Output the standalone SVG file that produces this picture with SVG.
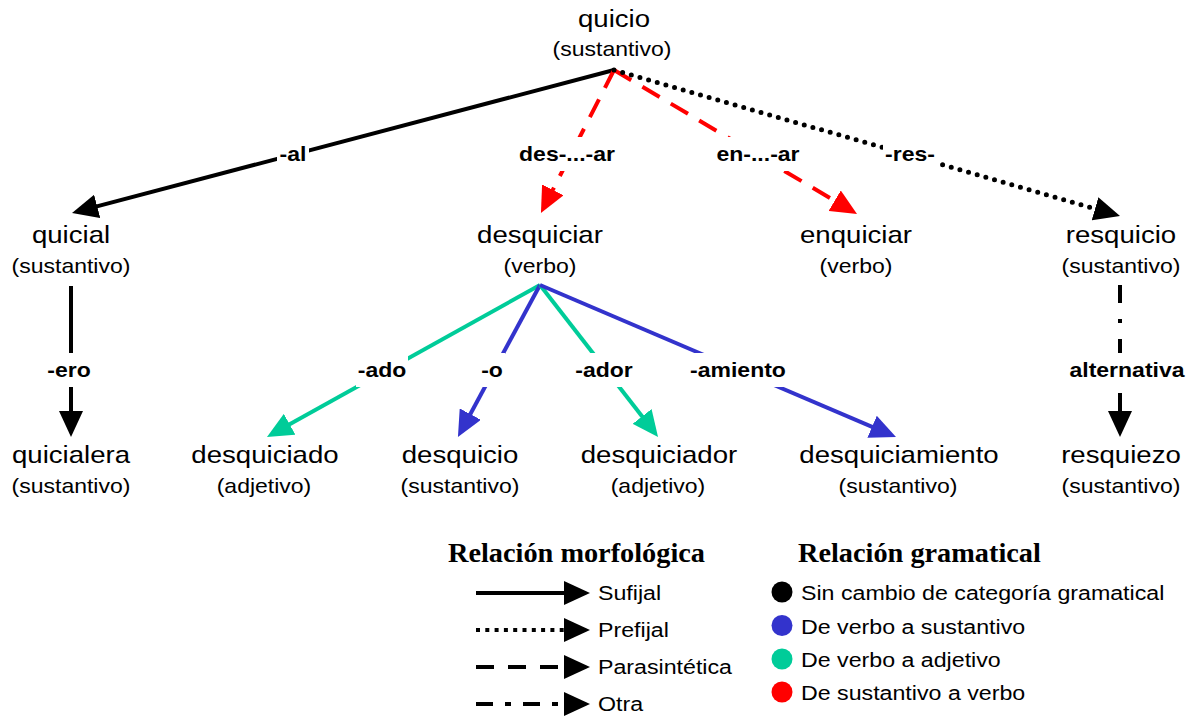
<svg xmlns="http://www.w3.org/2000/svg" width="1187" height="718" viewBox="0 0 1187 718">
<style>
  text { font-family: "Liberation Sans", Arial, sans-serif; fill: #000; }
  .w { font-size: 24px; text-anchor: middle; }
  .s { font-size: 20px; text-anchor: middle; }
  .lb { font-size: 20px; font-weight: bold; text-anchor: middle; }
  .lg { font-size: 20px; }
  .hd { font-family: "Liberation Serif", "Times New Roman", serif; font-size: 28.3px; font-weight: bold; }
  .ln { fill: none; stroke-width: 4; }
  .k { stroke: #000; }
  .r { stroke: #FF0000; }
  .g { stroke: #00CC99; }
  .b { stroke: #3333CC; }
  .dash { stroke-dasharray: 20 13; }
  .dot { stroke-dasharray: 0 9; stroke-linecap: round; stroke-width: 5; }
  .ddot { stroke-dasharray: 18 16 4 16; }
  .gap { fill: #fff; }
</style>
<defs>
  <marker id="ak" markerUnits="userSpaceOnUse" viewBox="0 0 26 24" refX="16" refY="12" markerWidth="26" markerHeight="24" orient="auto"><path d="M0,0 L26,12 L0,24 Z" fill="#000"/></marker>
  <marker id="ar" markerUnits="userSpaceOnUse" viewBox="0 0 26 24" refX="16" refY="12" markerWidth="26" markerHeight="24" orient="auto"><path d="M0,0 L26,12 L0,24 Z" fill="#FF0000"/></marker>
  <marker id="ag" markerUnits="userSpaceOnUse" viewBox="0 0 26 24" refX="16" refY="12" markerWidth="26" markerHeight="24" orient="auto"><path d="M0,0 L26,12 L0,24 Z" fill="#00CC99"/></marker>
  <marker id="ab" markerUnits="userSpaceOnUse" viewBox="0 0 26 24" refX="16" refY="12" markerWidth="26" markerHeight="24" orient="auto"><path d="M0,0 L26,12 L0,24 Z" fill="#3333CC"/></marker>
</defs>
<rect width="1187" height="718" fill="#fff"/>

<g id="connectors">
  <line class="ln k" x1="614" y1="70" x2="81.7" y2="210.4" marker-end="url(#ak)"/>
  <line class="ln r dash" x1="614" y1="70" x2="545.5" y2="204.1" marker-end="url(#ar)"/>
  <line class="ln r dash" x1="614" y1="70" x2="848.4" y2="208.9" marker-end="url(#ar)"/>
  <line class="ln k dot" x1="614" y1="70" x2="1110.4" y2="213.2" marker-end="url(#ak)"/>
  <line class="ln k" x1="71" y1="286" x2="71" y2="427" marker-end="url(#ak)"/>
  <line class="ln g" x1="540" y1="285" x2="275.7" y2="432.1" marker-end="url(#ag)"/>
  <line class="ln b" x1="540" y1="285" x2="462.7" y2="428.2" marker-end="url(#ab)"/>
  <line class="ln g" x1="540" y1="285" x2="651.9" y2="429.1" marker-end="url(#ag)"/>
  <line class="ln b" x1="540" y1="285" x2="886.8" y2="433.1" marker-end="url(#ab)"/>
  <line class="ln k ddot" x1="1120" y1="285" x2="1120" y2="427" marker-end="url(#ak)"/>

  <g id="edge-labels">
    <rect class="gap" x="277" y="137" width="32" height="34"/>
    <text class="lb" transform="translate(293,161) scale(1.15,1)">-al</text>
    <rect class="gap" x="517" y="137" width="100" height="34"/>
    <text class="lb" transform="translate(567,161) scale(1.15,1)">des-...-ar</text>
    <rect class="gap" x="714" y="137" width="88" height="34"/>
    <text class="lb" transform="translate(758,161) scale(1.15,1)">en-...-ar</text>
    <rect class="gap" x="883" y="137" width="54" height="34"/>
    <text class="lb" transform="translate(910,161) scale(1.15,1)">-res-</text>

    <rect class="gap" x="45" y="353" width="48" height="34"/>
    <text class="lb" transform="translate(69,377) scale(1.15,1)">-ero</text>
    <rect class="gap" x="356" y="353" width="52" height="34"/>
    <text class="lb" transform="translate(382,377) scale(1.15,1)">-ado</text>
    <rect class="gap" x="479" y="353" width="26" height="34"/>
    <text class="lb" transform="translate(492,377) scale(1.15,1)">-o</text>
    <rect class="gap" x="573" y="353" width="62" height="34"/>
    <text class="lb" transform="translate(604,377) scale(1.15,1)">-ador</text>
    <rect class="gap" x="688" y="353" width="100" height="34"/>
    <text class="lb" transform="translate(738,377) scale(1.15,1)">-amiento</text>
    <rect class="gap" x="1067" y="353" width="120" height="34"/>
    <text class="lb" transform="translate(1127,377) scale(1.15,1)">alternativa</text>
  </g>
</g>

<g id="node-quicio">
  <text class="w" transform="translate(614,27) scale(1.15,1)">quicio</text>
  <text class="s" transform="translate(612,56) scale(1.15,1)">(sustantivo)</text>
</g>
<g id="node-quicial">
  <text class="w" transform="translate(71,243) scale(1.15,1)">quicial</text>
  <text class="s" transform="translate(71,273) scale(1.15,1)">(sustantivo)</text>
</g>
<g id="node-desquiciar">
  <text class="w" transform="translate(540,243) scale(1.15,1)">desquiciar</text>
  <text class="s" transform="translate(540,273) scale(1.15,1)">(verbo)</text>
</g>
<g id="node-enquiciar">
  <text class="w" transform="translate(856,243) scale(1.15,1)">enquiciar</text>
  <text class="s" transform="translate(856,273) scale(1.15,1)">(verbo)</text>
</g>
<g id="node-resquicio">
  <text class="w" transform="translate(1121,243) scale(1.15,1)">resquicio</text>
  <text class="s" transform="translate(1121,273) scale(1.15,1)">(sustantivo)</text>
</g>
<g id="node-quicialera">
  <text class="w" transform="translate(71,463) scale(1.15,1)">quicialera</text>
  <text class="s" transform="translate(71,493) scale(1.15,1)">(sustantivo)</text>
</g>
<g id="node-desquiciado">
  <text class="w" transform="translate(265,463) scale(1.15,1)">desquiciado</text>
  <text class="s" transform="translate(264,493) scale(1.15,1)">(adjetivo)</text>
</g>
<g id="node-desquicio">
  <text class="w" transform="translate(460,463) scale(1.15,1)">desquicio</text>
  <text class="s" transform="translate(460,493) scale(1.15,1)">(sustantivo)</text>
</g>
<g id="node-desquiciador">
  <text class="w" transform="translate(659,463) scale(1.15,1)">desquiciador</text>
  <text class="s" transform="translate(658,493) scale(1.15,1)">(adjetivo)</text>
</g>
<g id="node-desquiciamiento">
  <text class="w" transform="translate(899,463) scale(1.15,1)">desquiciamiento</text>
  <text class="s" transform="translate(898,493) scale(1.15,1)">(sustantivo)</text>
</g>
<g id="node-resquiezo">
  <text class="w" transform="translate(1121,463) scale(1.15,1)">resquiezo</text>
  <text class="s" transform="translate(1121,493) scale(1.15,1)">(sustantivo)</text>
</g>

<g id="legend-morfologica">
  <text class="hd" x="448" y="562">Relación morfológica</text>
  <line class="ln k" x1="476" y1="593" x2="580" y2="593" marker-end="url(#ak)"/>
  <line class="ln k" x1="476" y1="630" x2="580" y2="630" style="stroke-dasharray:4 5.3"/>
  <path d="M564,618 L590,630 L564,642 Z" fill="#000"/>
  <line class="ln k" x1="476" y1="667" x2="580" y2="667" style="stroke-dasharray:18 14"/>
  <path d="M564,655 L590,667 L564,679 Z" fill="#000"/>
  <line class="ln k" x1="476" y1="704" x2="580" y2="704" style="stroke-dasharray:17 12 6 12"/>
  <path d="M564,692 L590,704 L564,716 Z" fill="#000"/>
  <text class="lg" transform="translate(598,600) scale(1.16,1)">Sufijal</text>
  <text class="lg" transform="translate(598,637) scale(1.16,1)">Prefijal</text>
  <text class="lg" transform="translate(598,674) scale(1.16,1)">Parasintética</text>
  <text class="lg" transform="translate(598,711) scale(1.16,1)">Otra</text>
</g>

<g id="legend-gramatical">
  <text class="hd" x="798" y="562">Relación gramatical</text>
  <circle cx="782" cy="592" r="10.5" fill="#000"/>
  <circle cx="782" cy="625.5" r="10.5" fill="#3333CC"/>
  <circle cx="782" cy="659" r="10.5" fill="#00CC99"/>
  <circle cx="782" cy="692" r="10.5" fill="#FF0000"/>
  <text class="lg" transform="translate(801,600) scale(1.16,1)">Sin cambio de categoría gramatical</text>
  <text class="lg" transform="translate(801,633.5) scale(1.16,1)">De verbo a sustantivo</text>
  <text class="lg" transform="translate(801,667) scale(1.16,1)">De verbo a adjetivo</text>
  <text class="lg" transform="translate(801,700) scale(1.16,1)">De sustantivo a verbo</text>
</g>
</svg>
